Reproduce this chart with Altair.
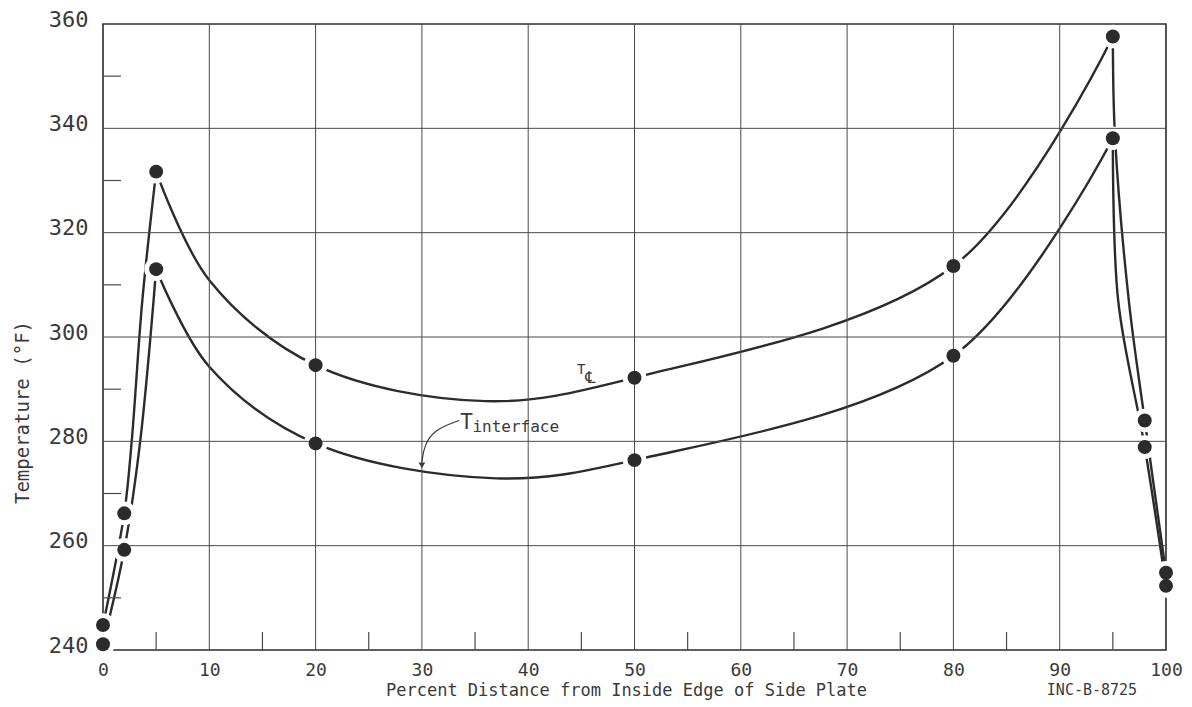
import altair as alt
import pandas as pd

# Measured points: percent distance from the inside edge of the side plate
pct_distance = [0, 2, 5, 20, 50, 80, 95, 98, 100]
# Centerline temperature at those points, °F
t_centerline = [244.8, 266.2, 331.7, 294.6, 292.2, 313.6, 357.6, 284.0, 254.8]
# Fuel/plate interface temperature at those points, °F
t_interface = [241.1, 259.2, 313.0, 279.6, 276.4, 296.4, 338.1, 278.9, 252.3]

# Faired curves through the measured points (x in %, T in °F)
cl_curve_x = [0, 2, 2.7, 3.7, 5,
              10, 20, 36, 50, 80, 95,
              95.2, 96.5, 98, 100]
cl_curve_t = [244.8, 266.2, 280.0, 307.0, 331.7,
              310.9, 294.6, 287.7, 292.2, 313.6, 357.6,
              338.5, 307.0, 284.0, 254.8]
if_curve_x = [0, 2, 3.5, 5,
              10, 20, 37, 50, 80, 95,
              95.5, 98, 100]
if_curve_t = [241.1, 259.2, 280.0, 313.0,
              294.3, 279.6, 272.9, 276.4, 296.4, 338.1,
              307.0, 278.9, 252.3]

# Axis ticks, grid lines and the short inside tick marks
x_ticks = [0, 10, 20, 30, 40, 50, 60, 70, 80, 90, 100]
y_ticks = [240, 260, 280, 300, 320, 340, 360]
x_grid = [10, 20, 30, 40, 50, 60, 70, 80, 90]
y_grid = [260, 280, 300, 320, 340]
x_minor = [5, 15, 25, 35, 45, 55, 65, 75, 85, 95]
y_minor = [250, 270, 290, 310, 330, 350]

# The curves break into a rise, a long span and a drop at the two peaks
piece_bounds = [("rise", 0, 5), ("span", 5, 95), ("drop", 95, 100)]

INK = "#2b2b2b"
GRID = "#4a4a4a"
TXT = "#3a3a3a"
FONT = "DejaVu Sans Mono"
W, H = 1063, 626

curve_rows = []
for name, xs, ts in [("centerline", cl_curve_x, cl_curve_t),
                     ("interface", if_curve_x, if_curve_t)]:
    for piece, lo, hi in piece_bounds:
        for x, t in zip(xs, ts):
            if lo <= x <= hi:
                curve_rows.append({"key": f"{name}-{piece}", "x": x, "y": t})
curve_df = pd.DataFrame(curve_rows)

point_df = pd.DataFrame(
    [{"x": x, "y": t} for temps in (t_centerline, t_interface)
     for x, t in zip(pct_distance, temps)]
)

xscale = alt.Scale(domain=[0, 100], nice=False, zero=False)
yscale = alt.Scale(domain=[240, 360], nice=False, zero=False)

xaxis = alt.Axis(
    values=x_ticks, format="d", grid=False, ticks=False, domain=False,
    labelFont=FONT, labelFontSize=18, labelColor=TXT, labelPadding=20,
    labelBaseline="middle", labelFlush=False, labelOverlap=False,
    title="Percent Distance from Inside Edge of Side Plate",
    titleFont=FONT, titleFontSize=17, titleFontWeight="normal", titleColor=TXT,
    titleX=523, titleY=45, titleBaseline="alphabetic", titleAlign="center",
)
yaxis = alt.Axis(
    values=y_ticks, format="d", grid=False, ticks=False, domain=False,
    labelFont=FONT, labelFontSize=22, labelColor=TXT, labelPadding=15,
    labelOffset=-5, labelFlush=False, labelOverlap=False,
    title="Temperature (°F)",
    titleFont=FONT, titleFontSize=19, titleFontWeight="normal", titleColor=TXT,
    titleAngle=270, titleX=-81, titleY=388, titleBaseline="middle", titleAlign="center",
)


def X(field):
    return alt.X(f"{field}:Q", scale=xscale, axis=xaxis)


def Y(field):
    return alt.Y(f"{field}:Q", scale=yscale, axis=yaxis)


curves = alt.Chart(curve_df).mark_line(
    interpolate="catmull-rom", color=INK, strokeWidth=2.4
).encode(x=X("x"), y=Y("y"), detail="key:N")

# White collars open the small gaps where the curves meet the dots
collars = alt.Chart(point_df).mark_point(
    filled=True, shape="circle", size=560, color="white", opacity=1
).encode(x=X("x"), y=Y("y"))

vgrid = alt.Chart(pd.DataFrame({"v": x_grid})).mark_rule(
    color=GRID, strokeWidth=1
).encode(x=X("v"))
hgrid = alt.Chart(pd.DataFrame({"v": y_grid})).mark_rule(
    color=GRID, strokeWidth=1
).encode(y=Y("v"))

xminor = alt.Chart(pd.DataFrame({"v": x_minor})).mark_rule(
    color=GRID, strokeWidth=1.2
).encode(x=X("v"), y=alt.value(H), y2=alt.value(H - 18))
yminor = alt.Chart(pd.DataFrame({"v": y_minor})).mark_rule(
    color=GRID, strokeWidth=1.2
).encode(y=Y("v"), x=alt.value(0), x2=alt.value(18))

dots = alt.Chart(point_df).mark_point(
    filled=True, shape="circle", size=195, color=INK, opacity=1
).encode(x=X("x"), y=Y("y"))

# Curve labels
tcl_t = alt.Chart(pd.DataFrame({"x": [44.6], "y": [293.0], "t": ["T"]})).mark_text(
    font=FONT, fontSize=14, color=TXT, align="left", baseline="alphabetic"
).encode(x=X("x"), y=Y("y"), text="t:N")
tcl_sub = alt.Chart(pd.DataFrame({"x": [45.85], "y": [292.2], "t": ["℄"]})).mark_text(
    font="DejaVu Sans", fontSize=16, color=TXT, align="center", baseline="middle"
).encode(x=X("x"), y=Y("y"), text="t:N")

tif_t = alt.Chart(pd.DataFrame({"x": [33.6], "y": [282.4], "t": ["T"]})).mark_text(
    font=FONT, fontSize=21, color=TXT, align="left", baseline="alphabetic"
).encode(x=X("x"), y=Y("y"), text="t:N")
tif_sub = alt.Chart(pd.DataFrame({"x": [34.75], "y": [281.8], "t": ["interface"]})).mark_text(
    font=FONT, fontSize=16, color=TXT, align="left", baseline="alphabetic"
).encode(x=X("x"), y=Y("y"), text="t:N")

# Leader from the interface label down to its curve
leader_df = pd.DataFrame({
    "i": [0, 1, 2, 3],
    "x": [33.5, 31.2, 30.2, 30.0],
    "y": [284.0, 282.3, 279.2, 276.0],
})
leader = alt.Chart(leader_df).mark_line(
    interpolate="basis", color=TXT, strokeWidth=1.2
).encode(x=X("x"), y=Y("y"), order="i:O")
arrowhead = alt.Chart(pd.DataFrame({"x": [30.0], "y": [275.4]})).mark_point(
    shape="triangle-down", filled=True, size=45, color=TXT, opacity=1
).encode(x=X("x"), y=Y("y"))

drawing_no = alt.Chart(pd.DataFrame({"t": ["INC-B-8725"]})).mark_text(
    font=FONT, fontSize=15, color=TXT, align="center", baseline="middle"
).encode(x=alt.value(989), y=alt.value(666), text="t:N")

chart = alt.layer(
    curves, collars, vgrid, hgrid, xminor, yminor, dots,
    tcl_t, tcl_sub, tif_t, tif_sub, leader, arrowhead, drawing_no,
).properties(
    width=W, height=H,
    autosize=alt.AutoSizeParams(type="none"),
    padding={"left": 103, "top": 24, "right": 26, "bottom": 57},
    background="white",
).configure_view(stroke=INK, strokeWidth=1.6)

chart.save("out.html", embed_options={"renderer": "svg", "actions": False})
